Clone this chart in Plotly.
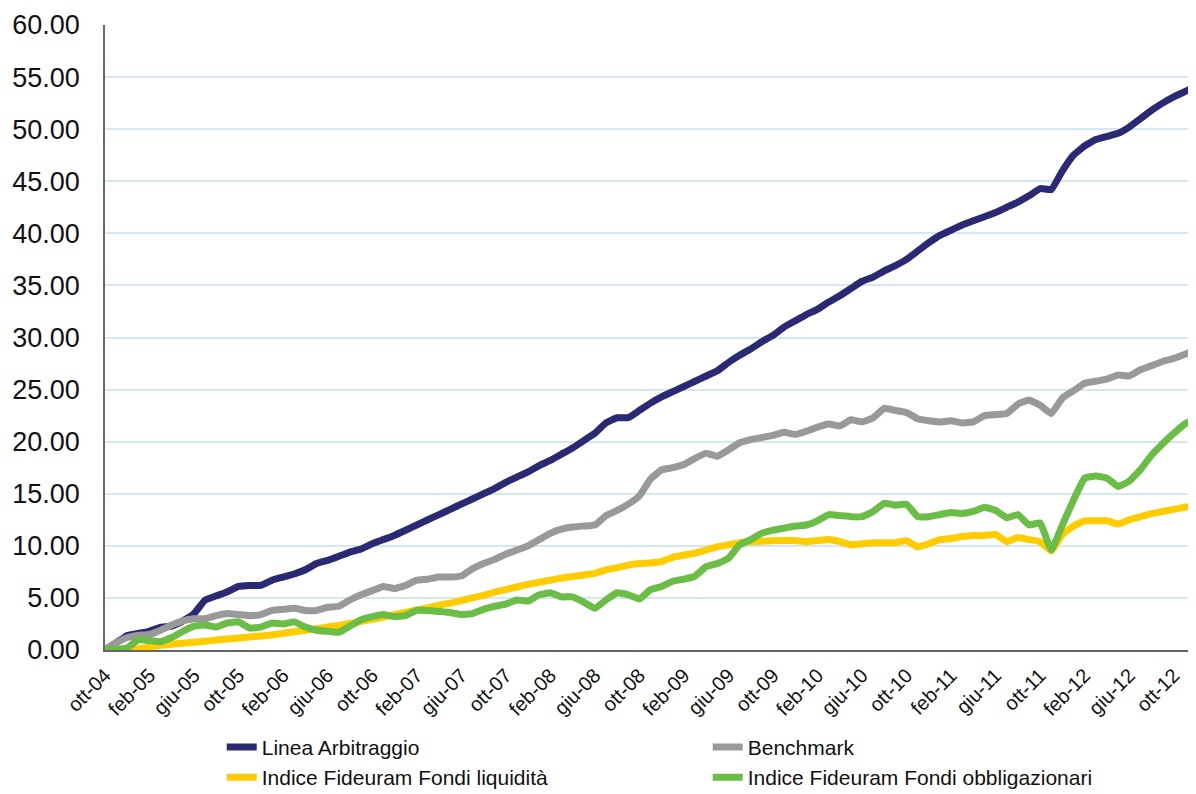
import plotly.graph_objects as go

# Month categories ott-04 .. dic-12 (99 monthly points)
mesi = ["gen", "feb", "mar", "apr", "mag", "giu", "lug", "ago", "set", "ott", "nov", "dic"]
categories = []
for anno in range(4, 13):
    for m, nome in enumerate(mesi):
        if anno == 4 and m < 9:
            continue
        categories.append(f"{nome}-{anno:02d}")

tick_labels = categories[::4]

linea_arbitraggio = [
    0.0, 0.7, 1.4, 1.6, 1.8, 2.2, 2.3, 2.8, 3.5, 4.8,
    5.2, 5.6, 6.1, 6.2, 6.2, 6.7, 7.0, 7.3, 7.7, 8.3,
    8.6, 9.0, 9.4, 9.7, 10.2, 10.6, 11.0, 11.5, 12.0, 12.5,
    13.0, 13.5, 14.0, 14.5, 15.0, 15.5, 16.1, 16.6, 17.1, 17.7,
    18.2, 18.8, 19.4, 20.1, 20.8, 21.8, 22.3, 22.3, 23.0, 23.7,
    24.3, 24.8, 25.3, 25.8, 26.3, 26.8, 27.6, 28.3, 28.9, 29.6,
    30.2, 31.0, 31.6, 32.2, 32.7, 33.4, 34.0, 34.7, 35.4, 35.8,
    36.4, 36.9, 37.5, 38.3, 39.1, 39.8, 40.3, 40.8, 41.2, 41.6,
    42.0, 42.5, 43.0, 43.6, 44.3, 44.2, 46.0, 47.5, 48.4, 49.0,
    49.3, 49.6, 50.2, 51.0, 51.8, 52.5, 53.1, 53.6, 54.1,
]

benchmark = [
    0.0, 0.7, 1.2, 1.4, 1.5, 1.9, 2.4, 2.8, 3.0, 3.0,
    3.3, 3.5, 3.4, 3.3, 3.4, 3.8, 3.9, 4.0, 3.8, 3.8,
    4.1, 4.2, 4.8, 5.3, 5.7, 6.1, 5.9, 6.2, 6.7, 6.8,
    7.0, 7.0, 7.1, 7.8, 8.3, 8.7, 9.2, 9.6, 10.0, 10.6,
    11.2, 11.6, 11.8, 11.9, 12.0, 12.9, 13.4, 14.0, 14.8, 16.4,
    17.3, 17.5, 17.8, 18.4, 18.9, 18.6, 19.2, 19.9, 20.2, 20.4,
    20.6, 20.9, 20.7, 21.0, 21.4, 21.7, 21.5, 22.1, 21.9, 22.3,
    23.2, 23.0, 22.8, 22.2, 22.0, 21.9, 22.0, 21.8, 21.9, 22.5,
    22.6, 22.7, 23.6, 24.0, 23.5, 22.7, 24.2, 24.9, 25.6, 25.8,
    26.0, 26.4, 26.3, 26.9, 27.3, 27.7, 28.0, 28.4, 28.8,
]

fondi_liquidita = [
    0.0, 0.0, 0.0, 0.1, 0.3, 0.45, 0.55, 0.65, 0.75, 0.85,
    0.95, 1.05, 1.15, 1.25, 1.35, 1.45, 1.6, 1.75, 1.9, 2.05,
    2.2, 2.35, 2.55, 2.75, 2.95, 3.15, 3.4, 3.6, 3.85, 4.05,
    4.3, 4.5, 4.75, 5.0, 5.25, 5.55, 5.8, 6.05, 6.3, 6.5,
    6.7, 6.9, 7.05, 7.2, 7.35, 7.7, 7.9, 8.15, 8.3, 8.35,
    8.5, 8.9, 9.1, 9.3, 9.6, 9.9, 10.1, 10.3, 10.4, 10.45,
    10.5, 10.5, 10.5, 10.4, 10.5, 10.6, 10.4, 10.1, 10.2, 10.3,
    10.3, 10.3, 10.5, 9.9, 10.2, 10.6, 10.7, 10.9, 11.0, 11.0,
    11.1, 10.4, 10.8, 10.6, 10.4, 9.5, 11.1, 11.9, 12.4, 12.4,
    12.4, 12.1, 12.5, 12.8, 13.1, 13.3, 13.5, 13.7, 13.9,
]

fondi_obbligazionari = [
    0.0, 0.1, 0.2, 1.0, 0.9, 0.8, 1.2, 1.8, 2.3, 2.4,
    2.2, 2.6, 2.7, 2.1, 2.2, 2.6, 2.5, 2.7, 2.2, 1.9,
    1.8, 1.7, 2.3, 2.9, 3.2, 3.4, 3.2, 3.3, 3.8, 3.8,
    3.7, 3.6, 3.4, 3.5, 3.9, 4.2, 4.4, 4.8, 4.7, 5.3,
    5.5, 5.1, 5.1, 4.6, 4.0, 4.8, 5.5, 5.3, 4.9, 5.8,
    6.1, 6.6, 6.8, 7.1, 8.0, 8.3, 8.8, 10.1, 10.6, 11.2,
    11.5, 11.7, 11.9, 12.0, 12.4, 13.0, 12.9, 12.8, 12.8, 13.3,
    14.1, 13.9, 14.0, 12.8, 12.8, 13.0, 13.2, 13.1, 13.3, 13.7,
    13.4, 12.7, 13.0, 12.0, 12.2, 9.6, 12.0, 14.4, 16.5, 16.7,
    16.5, 15.7, 16.2, 17.3, 18.7, 19.8, 20.8, 21.7, 22.2,
]

series = [
    ("Linea Arbitraggio", linea_arbitraggio, "#2a2a74"),
    ("Benchmark", benchmark, "#999999"),
    ("Indice Fideuram Fondi liquidità", fondi_liquidita, "#ffcc00"),
    ("Indice Fideuram Fondi obbligazionari", fondi_obbligazionari, "#6abd45"),
]

fig = go.Figure()
for name, values, color in series:
    fig.add_trace(go.Scatter(
        x=categories, y=values, mode="lines", name=name,
        line=dict(color=color, width=7, shape="spline", smoothing=0.3),
    ))

# The page body has an 8px margin, so the figure is sized/offset to compensate.
fig.update_layout(
    width=1188, height=786,
    margin=dict(l=97, r=0, t=17, b=144, autoexpand=False),
    paper_bgcolor="white", plot_bgcolor="white",
    font=dict(family="Liberation Sans, Arial, sans-serif", color="#111111"),
    showlegend=True,
    legend=dict(
        orientation="h", x=0.107, xanchor="left",
        yref="container", y=0.0855, yanchor="top",
        entrywidth=441, entrywidthmode="pixels",
        font=dict(size=21, color="#111111"),
        tracegroupgap=0, itemwidth=30,
        bgcolor="rgba(0,0,0,0)",
    ),
)

fig.update_xaxes(
    type="category", range=[0, len(categories) - 1],
    tickmode="array", tickvals=tick_labels, ticktext=tick_labels,
    tickangle=-45, tickfont=dict(size=20, color="#111111"),
    ticklabelstandoff=4,
    showgrid=False, showline=True, linecolor="#666666", linewidth=1.5,
    ticks="", zeroline=False, automargin=False,
)
fig.update_yaxes(
    range=[0, 60], dtick=5, tickformat=".2f",
    tickfont=dict(size=27, color="#111111"),
    ticklabelstandoff=18,
    showgrid=True, gridcolor="#d3e8f0", gridwidth=1.5,
    showline=True, linecolor="#666666", linewidth=1.5,
    ticks="", zeroline=False, automargin=False,
)

fig.write_html("out.html")
